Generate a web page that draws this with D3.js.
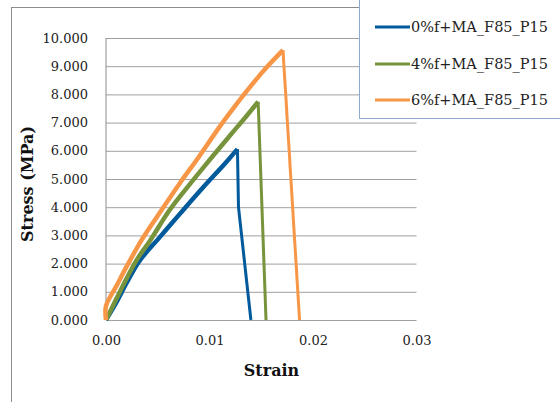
<!DOCTYPE html>
<html><head><meta charset="utf-8">
<script src="https://cdn.jsdelivr.net/npm/d3@7/dist/d3.min.js"></script>
<style>body{margin:0;background:#fff}svg{display:block}</style>
</head><body>
<script>
const seriesNames = ["0%f+MA_F85_P15", "4%f+MA_F85_P15", "6%f+MA_F85_P15"];
const seriesColors = ["#005A9C", "#77933C", "#F79646"];
const strain0 = [0, 0.0010, 0.0020, 0.0032, 0.0052, 0.0072, 0.0095, 0.0115, 0.0127, 0.0128, 0.0140];
const stress0 = [0, 0.62, 1.32, 2.08, 2.94, 3.79, 4.75, 5.55, 6.06, 4.0, 0];
const strain4 = [0, 0.0010, 0.0020, 0.0030, 0.0043, 0.0060, 0.00715, 0.0095, 0.0120, 0.0135, 0.0147, 0.01546];
const stress4 = [0, 0.75, 1.48, 2.15, 2.84, 3.82, 4.38, 5.45, 6.55, 7.2, 7.74, 0];
const strain6 = [0, 0, 0.0010, 0.0020, 0.00345, 0.0050, 0.00715, 0.0090, 0.0108, 0.0125, 0.0140, 0.0155, 0.0171, 0.0187];
const stress6 = [0, 0.5, 1.2, 1.9, 2.84, 3.7, 4.86, 5.8, 6.76, 7.6, 8.3, 8.95, 9.57, 0];
const xTicks = [0, 0.01, 0.02, 0.03];
const yTicks = [0, 1, 2, 3, 4, 5, 6, 7, 8, 9, 10];

const W = 560, H = 402;
const svg = d3.select("body").append("svg").attr("width", W).attr("height", H);
const font = "'DejaVu Serif', serif";

// chart area border
svg.append("rect").attr("x", 11.5).attr("y", 7.5).attr("width", 700).attr("height", 500)
  .attr("fill", "#fff").attr("stroke", "#8c8c8c").attr("stroke-width", 1);

const x = d3.scaleLinear().domain([0, 0.03]).range([106, 416.5]);
const y = d3.scaleLinear().domain([0, 10]).range([320, 38]);

// gridlines
const gy = svg.append("g").attr("transform", "translate(106,0)")
  .call(d3.axisLeft(y).tickValues(yTicks).tickSize(-(416.5 - 106)).tickPadding(18).tickFormat(d3.format(".3f")));
gy.select(".domain").remove();
gy.selectAll(".tick line").attr("stroke", "#a0a0a0").attr("stroke-width", 1);
gy.selectAll(".tick text").attr("font-family", font).attr("font-size", 13).attr("fill", "#222");
// y axis line
svg.append("line").attr("x1", 106).attr("x2", 106).attr("y1", 38).attr("y2", 320)
  .attr("stroke", "#8c8c8c");

const gx = svg.append("g").attr("transform", "translate(0,320)")
  .call(d3.axisBottom(x).tickValues(xTicks).tickSize(0).tickPadding(16).tickFormat(d3.format(".2f")));
gx.select(".domain").remove();
gx.selectAll(".tick text").attr("font-family", font).attr("font-size", 13).attr("fill", "#222");

// series
const series = [
  {xs: strain0, ys: stress0},
  {xs: strain4, ys: stress4},
  {xs: strain6, ys: stress6}
];
const riseLine = d3.line().x(d => x(d[0])).y(d => y(d[1])).curve(d3.curveCatmullRom.alpha(0.5));
const fallLine = d3.line().x(d => x(d[0])).y(d => y(d[1]));
series.forEach((s, i) => {
  const pts = s.xs.map((v, j) => [v, s.ys[j]]);
  const pk = d3.maxIndex(s.ys);
  svg.append("path").datum(pts.slice(pk)).attr("d", fallLine).attr("fill", "none")
    .attr("stroke", seriesColors[i]).attr("stroke-width", 3).attr("stroke-linejoin", "round");
  svg.append("path").datum(pts.slice(0, pk + 1)).attr("d", riseLine).attr("fill", "none")
    .attr("stroke", seriesColors[i]).attr("stroke-width", 4.5).attr("stroke-linejoin", "round");
});

// axis titles
svg.append("text").attr("transform", "translate(33,184) rotate(-90)").attr("text-anchor", "middle")
  .attr("font-family", font).attr("font-weight", "bold").attr("font-size", 16).attr("fill", "#111")
  .text("Stress (MPa)");
svg.append("text").attr("x", 271.5).attr("y", 376).attr("text-anchor", "middle")
  .attr("font-family", font).attr("font-weight", "bold").attr("font-size", 16).attr("fill", "#111")
  .text("Strain");

// legend
const lg = svg.append("g");
lg.append("rect").attr("x", 359.5).attr("y", -1).attr("width", 210).attr("height", 119.5)
  .attr("fill", "#fff").attr("stroke", "#8eaad0").attr("stroke-width", 1);
const legY = [27, 64, 100];
seriesNames.forEach((n, i) => {
  lg.append("line").attr("x1", 375).attr("x2", 410).attr("y1", legY[i]).attr("y2", legY[i])
    .attr("stroke", seriesColors[i]).attr("stroke-width", 3);
  lg.append("text").attr("x", 411).attr("y", legY[i]).attr("dy", "0.35em")
    .attr("font-family", font).attr("font-size", 14.5).attr("fill", "#222").text(n);
});
</script>
</body></html>
